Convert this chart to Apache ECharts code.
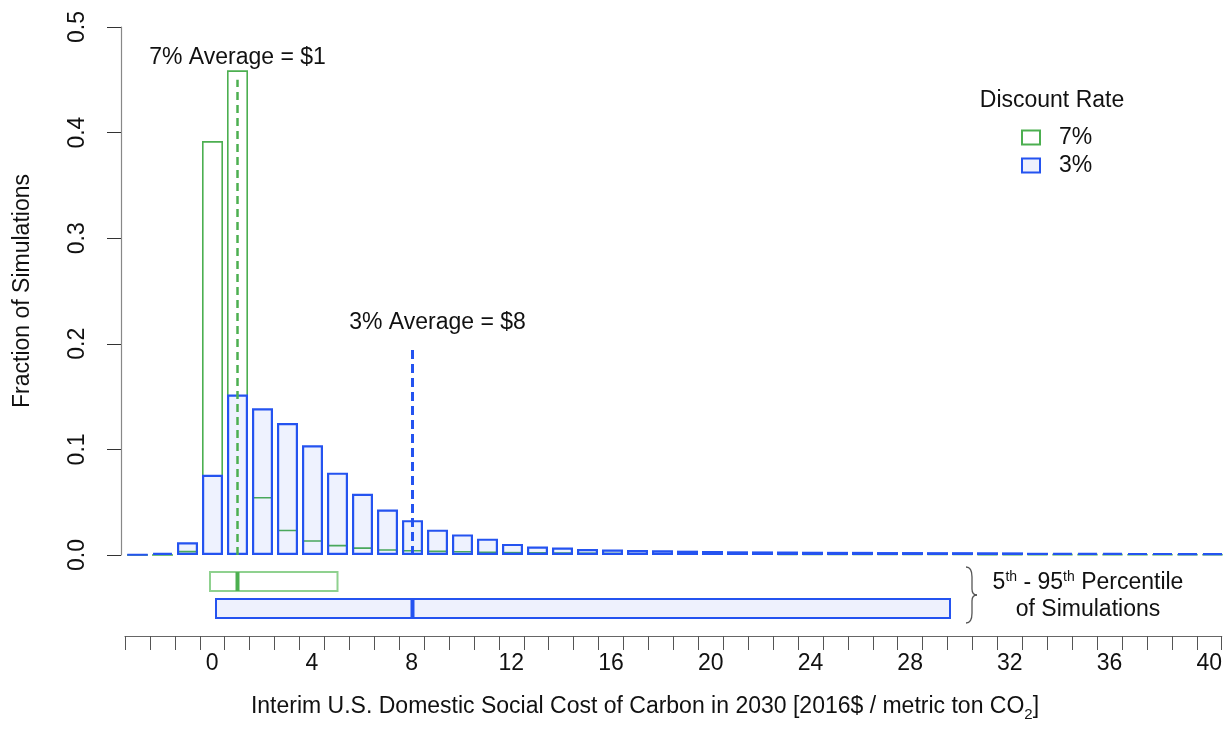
<!DOCTYPE html>
<html><head><meta charset="utf-8">
<script src="https://cdn.jsdelivr.net/npm/echarts@6/dist/echarts.min.js"></script>
<style>html,body{margin:0;padding:0;background:#fff}#c{width:1225px;height:744px}</style>
</head><body><div id="c"></div>
<script>
// ---- data ----
const binCenters = [-3,-2,-1,0,1,2,3,4,5,6,7,8,9,10,11,12,13,14,15,16,17,18,19,20,21,22,23,24,25,26,27,28,29,30,31,32,33,34,35,36,37,38,39,40];
const share7 = [0,0,0.004,0.392,0.459,0.055,0.024,0.014,0.0096,0.0073,0.0055,0.0048,0.0042,0.0039,0.0032,0.003,0.0028,0.0026,0.0024,0.0022,0.002,0.0018,0.0016,0.0015,0.0014,0.0013,0.0012,0.0011,0.001,0.001,0.001,0.0009,0.0009,0.0009,0.0008,0.0008,0.0008,0.0007,0.0007,0.0007,0.0006,0.0006,0.0006,0.0006];
const share3 = [0.0005,0.002,0.012,0.076,0.152,0.139,0.125,0.104,0.078,0.058,0.043,0.033,0.024,0.0195,0.0155,0.0105,0.008,0.007,0.0057,0.0052,0.0047,0.0044,0.0041,0.0038,0.0035,0.0034,0.0033,0.0031,0.003,0.003,0.0028,0.0028,0.0027,0.0027,0.0026,0.0025,0.0021,0.002,0.002,0.002,0.0019,0.0019,0.0018,0.0018];
const yTickValues = [0,0.1,0.2,0.3,0.4,0.5];
const xTickLabels = [0,4,8,12,16,20,24,28,32,36,40];
const average7 = 1, average3 = 8;
const avgLineTop7 = 0.45, avgLineTop3 = 0.196;
const label7Pos = [1, 0.471], label3Pos = [9, 0.22];
const pctRows = ['7%','3%'];
const pct7 = [-0.1, 1, 5.0];   // [5th, average, 95th]
const pct3 = [0.14, 8, 29.5];

// ---- styles ----
const FONT = '"Liberation Sans", Arial, sans-serif';
const GREEN = '#4CAF50', GREEN_LIGHT = '#8FD18F';
const BLUE = '#2453F0', BLUE_FILL = 'rgba(36,83,240,0.08)';
const TXT = '#111';

const chart = echarts.init(document.getElementById('c'), null, {renderer:'canvas'});
const cats = binCenters.map(String);
const xMin = binCenters[0] - 0.5, xMax = binCenters[binCenters.length-1] + 0.5;
const braceStyle = {fill:'none', stroke:'#555', lineWidth:1.3};

chart.setOption({
  animation:false,
  backgroundColor:'#fff',
  textStyle:{fontFamily:FONT},
  grid:[
    {left:125, right:0, top:27, height:528},
    {left:125, right:0, top:600, bottom:108},
    {left:125, right:0, top:568, height:54}
  ],
  xAxis:[
    {gridIndex:0, type:'category', data:cats, show:false},
    {gridIndex:0, type:'value', min:xMin, max:xMax, show:false},
    {gridIndex:1, type:'category', data:cats, position:'bottom',
      axisLine:{show:true, onZero:false, lineStyle:{color:'#666', width:1.2}},
      axisTick:{show:true, interval:0, alignWithLabel:false, inside:false, length:14, lineStyle:{color:'#555', width:1}},
      axisLabel:{show:true, interval:(i,v)=>xTickLabels.indexOf(Number(v))>=0, fontSize:23, color:TXT, margin:16, fontFamily:FONT}},
    {gridIndex:2, type:'value', min:xMin, max:xMax, show:false}
  ],
  yAxis:[
    {gridIndex:0, type:'value', min:yTickValues[0], max:yTickValues[yTickValues.length-1], interval:0.1, offset:4,
      name:'Fraction of Simulations', nameLocation:'middle', nameGap:87,
      nameTextStyle:{fontSize:23, color:TXT, fontFamily:FONT},
      axisLine:{show:true, onZero:false, lineStyle:{color:'#888', width:1.2}},
      axisTick:{show:true, length:14, lineStyle:{color:'#333'}},
      axisLabel:{rotate:90, fontSize:23, color:TXT, margin:32, fontFamily:FONT, formatter:v=>v.toFixed(1)},
      splitLine:{show:false}},
    {gridIndex:1, type:'value', show:false, min:0, max:1},
    {gridIndex:2, type:'category', data:pctRows, inverse:true, show:false}
  ],
  legend:{orient:'vertical', left:1016, top:121, itemWidth:18, itemHeight:14, itemGap:5, selectedMode:false,
    textStyle:{fontSize:23, color:TXT, fontFamily:FONT, padding:[0,0,0,14]},
    data:[
      {name:'7%', icon:'rect', itemStyle:{color:'#fff', borderColor:GREEN, borderWidth:2}},
      {name:'3%', icon:'rect', itemStyle:{color:'#EEF1FD', borderColor:BLUE, borderWidth:2}}
    ]},
  series:[
    {name:'7%', type:'bar', xAxisIndex:0, yAxisIndex:0, data:share7, barWidth:'84%', barGap:'-100%', z:2,
      itemStyle:{color:'rgba(0,0,0,0)', borderColor:GREEN, borderWidth:1.6}},
    {name:'3%', type:'bar', xAxisIndex:0, yAxisIndex:0, data:share3, barWidth:'84%', barGap:'-100%', z:3,
      itemStyle:{color:BLUE_FILL, borderColor:BLUE, borderWidth:2.2}},
    {type:'line', xAxisIndex:1, yAxisIndex:0, data:[[average7,0],[average7,avgLineTop7]], symbol:'none', z:5,
      lineStyle:{color:GREEN, width:2.5, type:[8,5]}},
    {type:'line', xAxisIndex:1, yAxisIndex:0, data:[[average3,0],[average3,avgLineTop3]], symbol:'none', z:5,
      lineStyle:{color:BLUE, width:3, type:[9,5]}},
    {type:'scatter', xAxisIndex:1, yAxisIndex:0, symbolSize:1, z:6, itemStyle:{opacity:0},
      data:[{value:label7Pos, label:{formatter:'7% Average = $' + average7}},
            {value:label3Pos, label:{formatter:'3% Average = $' + average3}}],
      label:{show:true, position:'inside', fontSize:23, color:TXT, opacity:1, fontFamily:FONT}},
    {type:'custom', xAxisIndex:3, yAxisIndex:2, z:4,
      encode:{x:[0,1,2], y:3},
      data:[[pct7[0],pct7[1],pct7[2],0],[pct3[0],pct3[1],pct3[2],1]],
      renderItem:(params, api)=>{
        const row = api.value(3);
        const lo = api.coord([api.value(0), row]);
        const mid = api.coord([api.value(1), row]);
        const hi = api.coord([api.value(2), row]);
        const h = api.size([0,1])[1]*0.7;
        const isG = params.dataIndex === 0;
        return {type:'group', children:[
          {type:'rect', shape:{x:lo[0], y:lo[1]-h/2, width:hi[0]-lo[0], height:h},
            style:{fill:isG?'#fff':'#EEF1FD', stroke:isG?GREEN_LIGHT:BLUE, lineWidth:2}},
          {type:'line', shape:{x1:mid[0], y1:lo[1]-h/2, x2:mid[0], y2:lo[1]+h/2},
            style:{stroke:isG?GREEN:BLUE, lineWidth:4}}
        ]};
      }}
  ],
  graphic:[
    {type:'text', style:{text:'Discount Rate', x:1052, y:101, align:'center', verticalAlign:'middle', fontSize:23, fill:TXT, fontFamily:FONT}},
    {type:'bezierCurve', shape:{x1:966,y1:567,x2:972,y2:577,cpx1:971,cpy1:567,cpx2:972,cpy2:571}, style:braceStyle},
    {type:'line', shape:{x1:972,y1:577,x2:972,y2:589}, style:braceStyle},
    {type:'bezierCurve', shape:{x1:972,y1:589,x2:977,y2:595,cpx1:972,cpy1:593,cpx2:974,cpy2:595}, style:braceStyle},
    {type:'bezierCurve', shape:{x1:977,y1:595,x2:972,y2:601,cpx1:974,cpy1:595,cpx2:972,cpy2:597}, style:braceStyle},
    {type:'line', shape:{x1:972,y1:601,x2:972,y2:613}, style:braceStyle},
    {type:'bezierCurve', shape:{x1:972,y1:613,x2:966,y2:623,cpx1:972,cpy1:619,cpx2:971,cpy2:623}, style:braceStyle},
    {type:'text', style:{x:1088, y:583, align:'center', verticalAlign:'middle', fontFamily:FONT, fill:TXT,
      text:'{a|5}{s|th}{a| - 95}{s|th}{a| Percentile}',
      rich:{a:{fontSize:23, fontFamily:FONT, fill:TXT, lineHeight:26}, s:{fontSize:14, fontFamily:FONT, fill:TXT, verticalAlign:'top', lineHeight:26, padding:[0,0,8,0]}}}},
    {type:'text', style:{x:1088, y:610, align:'center', verticalAlign:'middle', fontSize:23, fill:TXT, fontFamily:FONT, text:'of Simulations'}},
    {type:'text', style:{x:645, y:707, align:'center', verticalAlign:'middle', fontFamily:FONT, fill:TXT,
      text:'{a|Interim U.S. Domestic Social Cost of Carbon in 2030 [2016$ / metric ton CO}{b|2}{a|]}',
      rich:{a:{fontSize:23, fontFamily:FONT, fill:TXT, lineHeight:30}, b:{fontSize:15, fontFamily:FONT, fill:TXT, lineHeight:15, verticalAlign:'bottom'}}}}
  ]
});
</script></body></html>
